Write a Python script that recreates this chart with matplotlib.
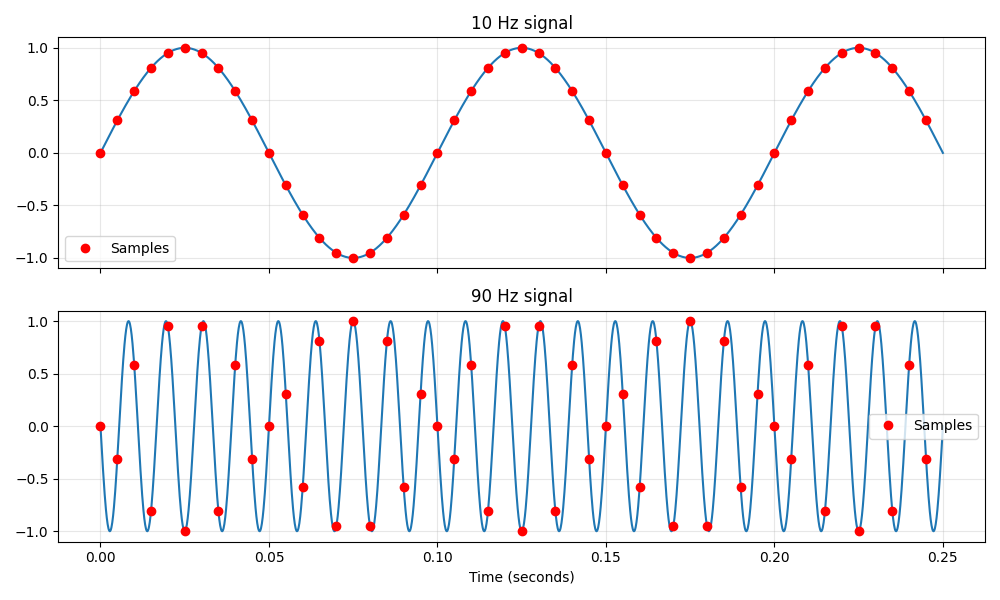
import numpy as np
import matplotlib
matplotlib.use("Agg")
import matplotlib.pyplot as plt

# signal frequencies (Hz) and sampling
freqs = [10, 90]
titles = ["10 Hz signal", "90 Hz signal"]
duration = 0.25
sample_times = [i * 0.005 for i in range(50)]

# sample values
cycle_10 = [0.0, 0.31, 0.59, 0.81, 0.95, 1.0, 0.95, 0.81, 0.59, 0.31,
            0.0, -0.31, -0.59, -0.81, -0.95, -1.0, -0.95, -0.81, -0.59, -0.31]
samples_10 = cycle_10 * 2 + cycle_10[:10]
cycle_90 = [0.0, -0.31, 0.58, -0.81, 0.95, -1.0, 0.95, -0.81, 0.58, -0.31,
            0.0, 0.31, -0.58, 0.81, -0.95, 1.0, -0.95, 0.81, -0.58, 0.31]
samples_90 = cycle_90 * 2 + cycle_90[:10]
samples = [samples_10, samples_90]
signs = [1, -1]
legend_locs = ["lower left", "center right"]

t = np.linspace(0, duration, 2000)

fig, axes = plt.subplots(2, 1, figsize=(10, 6), sharex=True)
for ax, f, sgn, s, title, loc in zip(axes, freqs, signs, samples, titles, legend_locs):
    ax.plot(t, sgn * np.sin(2 * np.pi * f * t), color="C0", linewidth=1.5)
    ax.plot(sample_times, s, "o", color="red", markersize=6, label="Samples")
    ax.set_title(title)
    ax.grid(True, alpha=0.3)
    ax.legend(loc=loc)

axes[1].set_xlabel("Time (seconds)")
plt.tight_layout()
plt.savefig("out.png", dpi=100)
